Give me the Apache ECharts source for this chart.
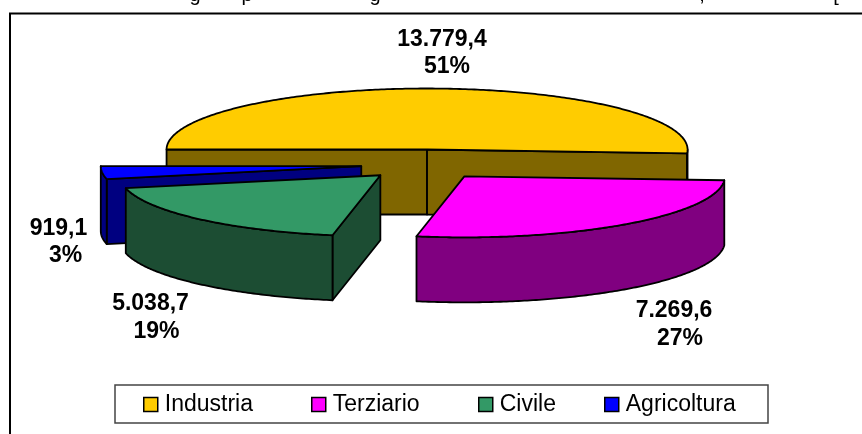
<!DOCTYPE html>
<html>
<head>
<meta charset="utf-8">
<style>
  html, body { margin: 0; padding: 0; background: #fff; }
  #chart { width: 862px; height: 434px; }
</style>
<script src="https://cdn.jsdelivr.net/npm/echarts@6/dist/echarts.min.js"></script>
</head>
<body>
<div id="chart"></div>
<script>
const categories = ['Industria', 'Terziario', 'Civile', 'Agricoltura'];
const values = [13779.4, 7269.6, 5038.7, 919.1];
const topColors = ['#ffcc00', '#ff00ff', '#339966', '#0000ff'];
const sideColors = ['#806600', '#800080', '#1c4d33', '#000080'];
// paint order, back to front
const depthOrder = [1, 4, 3, 2];
// label line centres
const valueLabelAt = [[442, 40], [674, 310.5], [150.5, 304], [58.5, 229]];
const percentLabelAt = [[447, 67], [680, 338.5], [156.5, 332], [65.5, 256]];
const legendLeft = [143, 311, 478, 604];
// only these descenders of the cut off line above the chart can be read
const clippedChars = ['g', 'p', 'g', ',', '['];
const clippedCharX = [195, 247, 375, 702, 836];

const CX = 425, CY = 164.5, RX = 260.5, RY = 61, DEPTH = 65, EXPLODE = 0.246;
const START_ANGLE = 270;
const total = values.reduce((a, b) => a + b, 0);

function formatValue(v) {
  const parts = v.toFixed(1).split('.');
  return parts[0].replace(/\B(?=(\d{3})+$)/g, '.') + ',' + parts[1];
}

function rad(deg) { return deg * Math.PI / 180; }

function rimPoint(c, deg, drop) {
  return [c[0] + RX * Math.sin(rad(deg)), c[1] - RY * Math.cos(rad(deg)) + (drop || 0)];
}

function arc(c, a0, a1, drop) {
  const pts = [];
  const n = Math.max(2, Math.ceil(Math.abs(a1 - a0) * 1.5));
  for (let i = 0; i <= n; i++) pts.push(rimPoint(c, a0 + (a1 - a0) * i / n, drop));
  return pts;
}

function face(points, fill) {
  return {
    type: 'polygon',
    shape: { points: points },
    style: { fill: fill, stroke: '#000', lineWidth: 1.8, lineJoin: 'round' }
  };
}

function cutFace(c, deg, fill) {
  const p = rimPoint(c, deg);
  return face([c, p, [p[0], p[1] + DEPTH], [c[0], c[1] + DEPTH]], fill);
}

function labelText(at, text) {
  return {
    type: 'text',
    style: {
      x: at[0],
      y: at[1],
      text: text,
      fill: '#000',
      font: 'bold 23px "Liberation Sans"',
      align: 'center',
      verticalAlign: 'middle'
    }
  };
}

function renderSlice(idx, value) {
  let before = 0;
  for (let i = 0; i < idx; i++) before += values[i];
  const a0 = START_ANGLE + before / total * 360;
  const a1 = a0 + value / total * 360;
  const mid = (a0 + a1) / 2;
  const c = [
    CX + EXPLODE * RX * Math.sin(rad(mid)),
    CY - EXPLODE * RY * Math.cos(rad(mid))
  ];
  const children = [];
  // cut faces turned toward the viewer
  if (Math.sin(rad(a0)) < 0) children.push(cutFace(c, a0, sideColors[idx]));
  if (Math.sin(rad(a1)) > 0) children.push(cutFace(c, a1, sideColors[idx]));
  // outer rim, front half only
  for (const turn of [0, 360]) {
    const from = Math.max(a0, 90 + turn), to = Math.min(a1, 270 + turn);
    if (to > from) {
      children.push(face(arc(c, from, to).concat(arc(c, to, from, DEPTH)), sideColors[idx]));
    }
  }
  children.push(face([c].concat(arc(c, a0, a1)), topColors[idx]));
  children.push(labelText(valueLabelAt[idx], formatValue(value)));
  children.push(labelText(percentLabelAt[idx], Math.round(value / total * 100) + '%'));
  return { type: 'group', children: children };
}

const myChart = echarts.init(document.getElementById('chart'), null, { renderer: 'canvas' });

const option = {
  animation: false,
  backgroundColor: '#fff',
  // one legend per item, the gaps in the picture are not even
  legend: categories.map((name, idx) => ({
    data: [name],
    selectedMode: false,
    left: legendLeft[idx],
    top: 393,
    padding: 0,
    itemWidth: 14,
    itemHeight: 14,
    icon: 'rect',
    textStyle: {
      fontFamily: 'Liberation Sans',
      fontSize: 23,
      color: '#000',
      padding: [0, 0, 0, 2]
    },
    itemStyle: { borderColor: '#000', borderWidth: 1.5 }
  })),
  graphic: [
    {
      type: 'polyline',
      silent: true,
      shape: { points: [[10, 434], [10, 13.5], [862, 13.5]] },
      style: { fill: 'none', stroke: '#000', lineWidth: 2 }
    },
    {
      type: 'rect',
      silent: true,
      shape: { x: 115, y: 385, width: 653, height: 38 },
      style: { fill: 'none', stroke: '#444', lineWidth: 1.5 }
    }
  ].concat(clippedChars.map((ch, i) => ({
    type: 'text',
    silent: true,
    style: {
      x: clippedCharX[i],
      y: 5,
      text: ch,
      fill: '#000',
      font: '20px "Liberation Sans"',
      align: 'center',
      verticalAlign: 'bottom'
    }
  }))),
  series: categories.map((name, idx) => ({
    type: 'custom',
    name: name,
    coordinateSystem: 'none',
    z: depthOrder[idx] + 2,
    itemStyle: { color: topColors[idx] },
    data: [[values[idx]]],
    renderItem: (params, api) => renderSlice(idx, api.value(0))
  }))
};

myChart.setOption(option);
window.addEventListener('resize', () => myChart.resize());
</script>
</body>
</html>
